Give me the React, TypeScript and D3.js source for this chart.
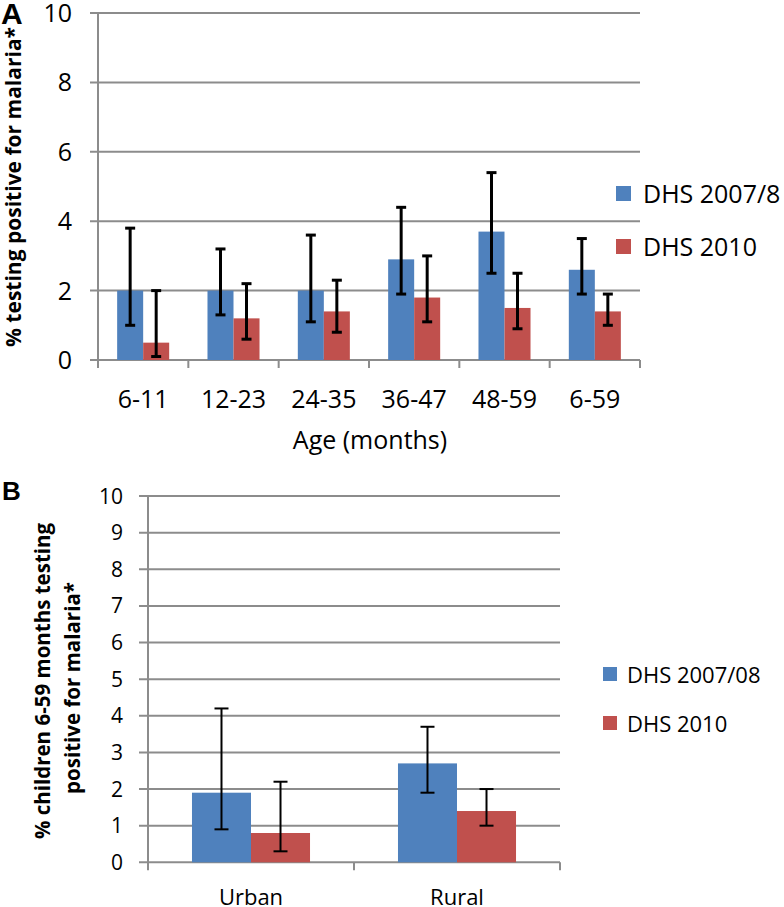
import React from "react";
import * as d3 from "d3";

const ageCats = ["6-11", "12-23", "24-35", "36-47", "48-59", "6-59"];
const seriesA = ["DHS 2007/8", "DHS 2010"];
const a2007 = [2.0, 2.0, 2.0, 2.9, 3.7, 2.6];
const a2007Lo = [1.0, 1.3, 1.1, 1.9, 2.5, 1.9];
const a2007Hi = [3.8, 3.2, 3.6, 4.4, 5.4, 3.5];
const a2010 = [0.5, 1.2, 1.4, 1.8, 1.5, 1.4];
const a2010Lo = [0.1, 0.6, 0.8, 1.1, 0.9, 1.0];
const a2010Hi = [2.0, 2.2, 2.3, 3.0, 2.5, 1.9];
const aTicks = [0, 2, 4, 6, 8, 10];

const resCats = ["Urban", "Rural"];
const seriesB = ["DHS 2007/08", "DHS 2010"];
const b2007 = [1.9, 2.7];
const b2007Lo = [0.9, 1.9];
const b2007Hi = [4.2, 3.7];
const b2010 = [0.8, 1.4];
const b2010Lo = [0.3, 1.0];
const b2010Hi = [2.2, 2.0];
const bTicks = [0, 1, 2, 3, 4, 5, 6, 7, 8, 9, 10];

const BLUE = "#4F81BD";
const RED = "#C0504D";
const GRID = "#8C8C8C";
const FONT = "'Open Sans', Lato, sans-serif";

type PanelProps = {
  cats: string[];
  series: string[];
  vals: number[][];
  lo: number[][];
  hi: number[][];
  ticks: number[];
  x0: number;
  x1: number;
  y0: number;
  y1: number;
  gridStart: number;
  tickLabelX: number;
  tickFont: number;
  catFont: number;
  catBaseline: number;
  padInner: number;
  errW: number;
  capW: number;
  tickDown: number;
};

function Panel(p: PanelProps) {
  const y = d3.scaleLinear().domain([0, 10]).range([p.y0, p.y1]);
  const x = d3
    .scaleBand<string>()
    .domain(p.cats)
    .range([p.x0, p.x1])
    .paddingInner(p.padInner)
    .paddingOuter(p.padInner / 2);
  const sub = d3
    .scaleBand<string>()
    .domain(p.series)
    .range([0, x.bandwidth()]);
  const colors = [BLUE, RED];
  const step = x.step();
  const bounds = p.cats.map((c) => (x(c) as number) - (step * p.padInner) / 2);
  bounds.push(p.x1);
  return (
    <g>
      {p.ticks.map((t) => (
        <g key={t}>
          <line x1={p.gridStart} x2={p.x1} y1={y(t)} y2={y(t)} stroke={GRID} strokeWidth={2} />
          <text
            x={p.tickLabelX}
            y={y(t)}
            dy="0.36em"
            textAnchor="end"
            fontFamily={FONT}
            fontSize={p.tickFont}
            fill="#000"
          >
            {t}
          </text>
        </g>
      ))}
      <line x1={p.x0} x2={p.x0} y1={y(10) - 1} y2={p.y0 + p.tickDown} stroke={GRID} strokeWidth={2} />
      {bounds.slice(1).map((b, i) => (
        <line key={i} x1={b} x2={b} y1={p.y0} y2={p.y0 + p.tickDown} stroke={GRID} strokeWidth={2} />
      ))}
      {p.cats.map((c, ci) => (
        <g key={c}>
          {p.series.map((s, si) => {
            const bx = (x(c) as number) + (sub(s) as number);
            const bw = sub.bandwidth();
            const v = p.vals[si][ci];
            const cx = bx + bw / 2;
            return (
              <g key={s}>
                <rect x={bx} y={y(v)} width={bw} height={y(0) - y(v)} fill={colors[si]} />
                <line x1={cx} x2={cx} y1={y(p.lo[si][ci])} y2={y(p.hi[si][ci])} stroke="#000" strokeWidth={p.errW} />
                <line x1={cx - p.capW / 2} x2={cx + p.capW / 2} y1={y(p.lo[si][ci])} y2={y(p.lo[si][ci])} stroke="#000" strokeWidth={p.errW} />
                <line x1={cx - p.capW / 2} x2={cx + p.capW / 2} y1={y(p.hi[si][ci])} y2={y(p.hi[si][ci])} stroke="#000" strokeWidth={p.errW} />
              </g>
            );
          })}
          <text
            x={(x(c) as number) + x.bandwidth() / 2}
            y={p.catBaseline}
            textAnchor="middle"
            fontFamily={FONT}
            fontSize={p.catFont}
            fill="#000"
          >
            {c}
          </text>
        </g>
      ))}
    </g>
  );
}

export default function App() {
  return (
    <svg
      width={784}
      height={907}
      style={{ position: "absolute", left: 0, top: 0, background: "#fff" }}
    >
      <rect width={784} height={907} fill="#fff" />
      {/* Panel A */}
      <text x={1} y={24} fontFamily="'Liberation Sans', Arial, sans-serif" fontWeight="bold" fontSize={30}>
        A
      </text>
      <Panel
        cats={ageCats}
        series={seriesA}
        vals={[a2007, a2010]}
        lo={[a2007Lo, a2010Lo]}
        hi={[a2007Hi, a2010Hi]}
        ticks={aTicks}
        x0={98}
        x1={640}
        y0={360}
        y1={13}
        gridStart={90}
        tickLabelX={72}
        tickFont={25}
        catFont={25}
        catBaseline={408}
        padInner={0.424}
        errW={3}
        capW={10}
        tickDown={8}
      />
      <text x={370} y={449} textAnchor="middle" fontFamily={FONT} fontSize={25}>
        Age (months)
      </text>
      <text
        transform="translate(21,187) rotate(-90)"
        textAnchor="middle"
        fontFamily={FONT}
        fontWeight="bold"
        fontSize={21}
      >
        % testing positive for malaria*
      </text>
      {seriesA.map((s, i) => (
        <g key={s}>
          <rect x={616} y={186 + i * 53} width={15} height={15} fill={i === 0 ? BLUE : RED} />
          <text x={643} y={203 + i * 53} fontFamily={FONT} fontSize={25}>
            {s}
          </text>
        </g>
      ))}

      {/* Panel B */}
      <text x={2} y={500} fontFamily="'Liberation Sans', Arial, sans-serif" fontWeight="bold" fontSize={26}>
        B
      </text>
      <Panel
        cats={resCats}
        series={seriesB}
        vals={[b2007, b2010]}
        lo={[b2007Lo, b2010Lo]}
        hi={[b2007Hi, b2010Hi]}
        ticks={bTicks}
        x0={148}
        x1={560}
        y0={862.3}
        y1={496}
        gridStart={139}
        tickLabelX={123}
        tickFont={21}
        catFont={22}
        catBaseline={905}
        padInner={0.427}
        errW={2}
        capW={14}
        tickDown={8}
      />
      <text
        transform="translate(50,681) rotate(-90)"
        textAnchor="middle"
        fontFamily={FONT}
        fontWeight="bold"
        fontSize={20.5}
      >
        % children 6-59 months testing
      </text>
      <text
        transform="translate(80,688) rotate(-90)"
        textAnchor="middle"
        fontFamily={FONT}
        fontWeight="bold"
        fontSize={20.5}
      >
        positive for  malaria*
      </text>
      {seriesB.map((s, i) => (
        <g key={s}>
          <rect x={603} y={667 + i * 49} width={14} height={14} fill={i === 0 ? BLUE : RED} />
          <text x={627} y={683 + i * 49} fontFamily={FONT} fontSize={22}>
            {s}
          </text>
        </g>
      ))}
    </svg>
  );
}
